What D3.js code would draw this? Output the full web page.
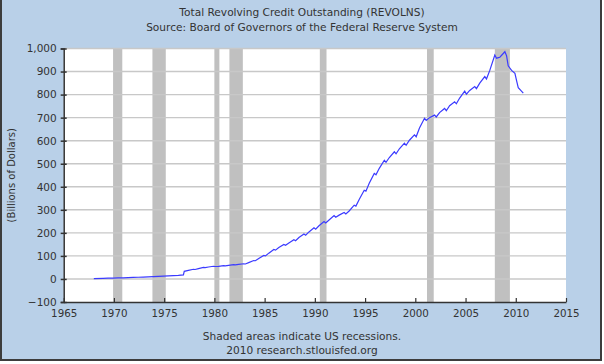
<!DOCTYPE html>
<html>
<head>
<meta charset="utf-8">
<script src="https://cdn.jsdelivr.net/npm/d3@7"></script>
<style>
  html, body { margin: 0; padding: 0; background: #ffffff; }
  svg { display: block; }
  text { font-family: "DejaVu Sans", Verdana, sans-serif; fill: #333; }
</style>
</head>
<body>
<svg id="chart" width="604" height="364"></svg>
<script>
const titleLines = ["Total Revolving Credit Outstanding (REVOLNS)", "Source: Board of Governors of the Federal Reserve System"];
const footerLines = ["Shaded areas indicate US recessions.", "2010 research.stlouisfed.org"];
const yAxisLabel = "(Billions of Dollars)";
const yTicks = [-100, 0, 100, 200, 300, 400, 500, 600, 700, 800, 900, 1000];
const xTickYears = [1965, 1970, 1975, 1980, 1985, 1990, 1995, 2000, 2005, 2010, 2015];

const recessionStart = ["1969-12", "1973-11", "1980-01", "1981-07", "1990-07", "2001-03", "2007-12"];
const recessionEnd   = ["1970-11", "1975-03", "1980-07", "1982-11", "1991-03", "2001-11", "2009-06"];

const dates = [
  "1968-01","1968-12","1969-06","1969-12","1970-06","1970-12","1971-06","1971-12",
  "1972-06","1972-12","1973-06","1973-12","1974-06","1974-12","1975-06","1975-12",
  "1976-06","1976-12","1977-01","1977-06","1977-12",
  "1978-02","1978-06","1978-12","1979-02","1979-06","1979-12",
  "1980-02","1980-06","1980-12","1981-02","1981-06","1981-12",
  "1982-02","1982-06","1982-12","1983-02","1983-06","1983-12",
  "1984-02","1984-06","1984-12","1985-02","1985-06","1985-12",
  "1986-02","1986-06","1986-12","1987-02","1987-06","1987-12",
  "1988-02","1988-06","1988-12","1989-02","1989-06","1989-12",
  "1990-02","1990-06","1990-12","1991-02","1991-06","1991-12",
  "1992-02","1992-06","1992-12","1993-02","1993-06","1993-12",
  "1994-02","1994-06","1994-12","1995-02","1995-06","1995-12",
  "1996-02","1996-06","1996-12","1997-02","1997-06","1997-12",
  "1998-02","1998-06","1998-12","1999-02","1999-06","1999-12",
  "2000-02","2000-06","2000-12","2001-02","2001-06","2001-12",
  "2002-02","2002-06","2002-12","2003-02","2003-06","2003-12",
  "2004-02","2004-06","2004-12","2005-02","2005-06","2005-12",
  "2006-02","2006-06","2006-12","2007-02","2007-06","2007-12",
  "2008-02","2008-06","2008-12","2009-02","2009-04","2009-08","2009-12",
  "2010-02","2010-04","2010-07","2010-10"
];
const values = [
  1.5, 2.5, 3.2, 3.8, 4.4, 5.0, 5.7, 6.5,
  7.3, 8.2, 9.3, 10.5, 11.5, 12.5, 13.4, 14.5,
  15.7, 17.5, 33, 37, 42,
  41, 45, 50, 49, 52, 55,
  54, 55, 58, 57, 59, 62,
  61, 63, 66, 65, 71, 80,
  79, 89, 102, 100, 112, 128,
  125, 136, 150, 146, 156, 170,
  166, 180, 195, 190, 204, 222,
  216, 231, 249, 243, 256, 275,
  268, 277, 288, 282, 295, 320,
  316, 345, 385, 381, 415, 458,
  452, 480, 515, 506, 527, 552,
  543, 565, 589, 580, 602, 625,
  617, 655, 697, 688, 700, 711,
  703, 722, 740, 730, 752, 769,
  760, 785, 815, 802, 818, 835,
  826, 850, 878, 868, 905, 972,
  958, 962, 986, 968, 925, 905, 892,
  860, 830, 818, 806
];

(function () {
const parse = d3.timeParse("%Y-%m");
const data = dates.map((d, i) => ({ date: parse(d), value: values[i] }));

const svg = d3.select("#chart");

// background + frame
svg.append("rect").attr("x", 0).attr("y", 0).attr("width", 601).attr("height", 360).attr("fill", "#b9d0e8");
svg.append("path").attr("d", "M1,0 V360 H601 V0").attr("fill", "none").attr("stroke", "#3c3c3c").attr("stroke-width", 2);

const pL = 63.7, pR = 566, pT = 48.5, pB = 302;
const x = d3.scaleTime().domain([new Date(1965, 0, 1), new Date(2015, 0, 1)]).range([pL, pR]);
const y = d3.scaleLinear().domain([-100, 1000]).range([pB, pT]);

// plot area
svg.append("rect").attr("x", pL).attr("y", pT).attr("width", pR - pL).attr("height", pB - pT).attr("fill", "#ffffff");

// recession bars
svg.append("g").selectAll("rect").data(recessionStart).join("rect")
  .attr("x", (d) => x(parse(d)))
  .attr("width", (d, i) => x(parse(recessionEnd[i])) - x(parse(d)))
  .attr("y", pT).attr("height", pB - pT)
  .attr("fill", "#c0c0c0");

// gridlines
svg.append("g").selectAll("line").data(yTicks.filter(v => v > -100)).join("line")
  .attr("x1", pL).attr("x2", pR)
  .attr("y1", d => y(d)).attr("y2", d => y(d))
  .attr("stroke", "#c8c8c8").attr("stroke-width", 1.4);

// series line
svg.append("path").datum(data)
  .attr("d", d3.line().x(d => x(d.date)).y(d => y(d.value)))
  .attr("fill", "none").attr("stroke", "#3b3bff").attr("stroke-width", 1.2);

// y axis
const yAxis = svg.append("g").attr("transform", `translate(${pL},0)`)
  .call(d3.axisLeft(y).tickValues(yTicks).tickFormat(d3.format(",")).tickSize(3).tickPadding(4));
yAxis.select(".domain").attr("stroke", "#333").attr("stroke-width", 1.5);
yAxis.selectAll(".tick line").attr("x2", 3).attr("x1", -3).attr("stroke", "#333").attr("stroke-width", 1.5);
yAxis.selectAll(".tick text").attr("font-size", 10.5).attr("fill", "#333").attr("font-family", "DejaVu Sans");

// x axis
const xAxis = svg.append("g").attr("transform", `translate(0,${pB})`)
  .call(d3.axisBottom(x).tickValues(xTickYears.map(yr => new Date(yr, 0, 1))).tickFormat(d3.timeFormat("%Y")).tickSizeInner(-4).tickSizeOuter(0).tickPadding(8));
xAxis.select(".domain").attr("stroke", "#333").attr("stroke-width", 1.5);
xAxis.selectAll(".tick line").attr("stroke", "#333").attr("stroke-width", 1.2);
xAxis.selectAll(".tick text").attr("font-size", 10.3).attr("fill", "#333").attr("font-family", "DejaVu Sans");

// titles
svg.append("g").selectAll("text").data(titleLines).join("text")
  .attr("x", 302).attr("y", (d, i) => 16 + i * 14.5)
  .attr("text-anchor", "middle").attr("font-size", 10.6).text(d => d);

// footer
svg.append("g").selectAll("text").data(footerLines).join("text")
  .attr("x", 302).attr("y", (d, i) => 339.5 + i * 14.5)
  .attr("text-anchor", "middle").attr("font-size", 10.6).text(d => d);

// y label
svg.append("text").attr("transform", `translate(15,${(pT + pB) / 2}) rotate(-90)`)
  .attr("text-anchor", "middle").attr("font-size", 10).text(yAxisLabel);
})();
</script>
</body>
</html>
